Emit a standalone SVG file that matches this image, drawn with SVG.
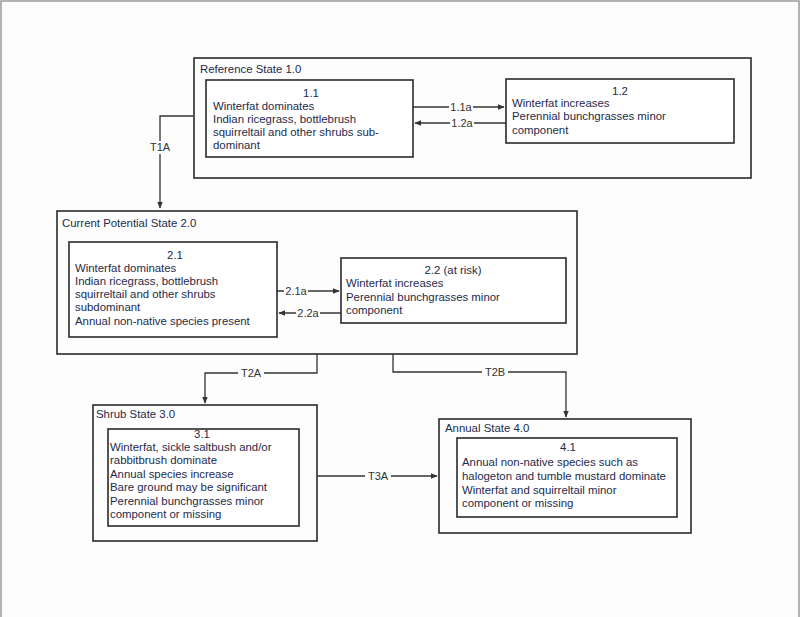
<svg xmlns="http://www.w3.org/2000/svg" width="800" height="617" viewBox="0 0 800 617">
<defs>
<style>
.bg{fill:#fdfdfd}
.frame{fill:none;stroke:#999;stroke-width:1.5}
.state{fill:none;stroke:#2a2a2a;stroke-width:1.6}
.comm{fill:#fff;stroke:#2a2a2a;stroke-width:1.6}
text{font-family:"Liberation Sans",Arial,sans-serif;font-size:11.4px;fill:#1e2a4a}
.c{text-anchor:middle}
.conn{fill:none;stroke:#333;stroke-width:1.3}
.lbl{text-anchor:middle;font-size:11px;fill:#333}
.lblbg{fill:#fdfdfd}
</style>
<marker id="ah" viewBox="0 0 10 10" refX="9" refY="5" markerWidth="7" markerHeight="7" orient="auto-start-reverse" markerUnits="userSpaceOnUse">
<path d="M0,1 L10,5 L0,9 z" fill="#333"/>
</marker>
</defs>
<rect class="bg" x="0" y="0" width="800" height="617"/>
<path class="frame" d="M1,617 L1,1 L799,1 L799,617"/>

<g id="connectors">
<path class="conn" d="M193,116 L160,116 L160,208" marker-end="url(#ah)"/>
<rect class="lblbg" x="146" y="141" width="28" height="13"/>
<text class="lbl" x="160" y="151">T1A</text>

<path class="conn" d="M413,107 L504,107" marker-end="url(#ah)"/>
<rect class="lblbg" x="449" y="101" width="24" height="12"/>
<text class="lbl" x="461" y="111">1.1a</text>
<path class="conn" d="M506,123 L415,123" marker-end="url(#ah)"/>
<rect class="lblbg" x="450" y="117" width="24" height="12"/>
<text class="lbl" x="462" y="127">1.2a</text>

<path class="conn" d="M277,291 L339,291" marker-end="url(#ah)"/>
<rect class="lblbg" x="284" y="285" width="24" height="12"/>
<text class="lbl" x="296" y="295">2.1a</text>
<path class="conn" d="M341,313 L279,313" marker-end="url(#ah)"/>
<rect class="lblbg" x="296" y="307" width="24" height="12"/>
<text class="lbl" x="308" y="317">2.2a</text>

<path class="conn" d="M317,354 L317,373 L205,373 L205,403" marker-end="url(#ah)"/>
<rect class="lblbg" x="238" y="367" width="26" height="12"/>
<text class="lbl" x="251" y="377">T2A</text>

<path class="conn" d="M393,354 L393,372 L566,372 L566,417" marker-end="url(#ah)"/>
<rect class="lblbg" x="482" y="366" width="26" height="12"/>
<text class="lbl" x="495" y="376">T2B</text>

<path class="conn" d="M317,476 L437,476" marker-end="url(#ah)"/>
<rect class="lblbg" x="365" y="470" width="26" height="12"/>
<text class="lbl" x="378" y="480">T3A</text>
</g>

<g id="state1">
<rect class="state" x="194" y="58" width="557" height="120"/>
<text x="200" y="73">Reference State 1.0</text>
</g>
<g id="comm1_1">
<rect class="comm" x="206" y="80" width="207" height="77"/>
<text class="c" x="311" y="97">1.1</text>
<text x="213" y="110">Winterfat dominates</text>
<text x="213" y="123">Indian ricegrass, bottlebrush</text>
<text x="213" y="136">squirreltail and other shrubs sub-</text>
<text x="213" y="149">dominant</text>
</g>
<g id="comm1_2">
<rect class="comm" x="506" y="79" width="228" height="64"/>
<text class="c" x="620" y="95">1.2</text>
<text x="512" y="107">Winterfat increases</text>
<text x="512" y="120">Perennial bunchgrasses minor</text>
<text x="512" y="134">component</text>
</g>

<g id="state2">
<rect class="state" x="57" y="211" width="520" height="143"/>
<text x="62" y="227">Current Potential State 2.0</text>
</g>
<g id="comm2_1">
<rect class="comm" x="69" y="242" width="208" height="95"/>
<text class="c" x="175" y="259">2.1</text>
<text x="75" y="272">Winterfat dominates</text>
<text x="75" y="285">Indian ricegrass, bottlebrush</text>
<text x="75" y="298">squirreltail and other shrubs</text>
<text x="75" y="311">subdominant</text>
<text x="75" y="325">Annual non-native species present</text>
</g>
<g id="comm2_2">
<rect class="comm" x="341" y="258" width="225" height="65"/>
<text class="c" x="453" y="274">2.2 (at risk)</text>
<text x="346" y="287">Winterfat increases</text>
<text x="346" y="301">Perennial bunchgrasses minor</text>
<text x="346" y="314">component</text>
</g>

<g id="state3">
<rect class="state" x="93" y="405" width="224" height="136"/>
<text x="96" y="418">Shrub State 3.0</text>
</g>
<g id="comm3_1">
<rect class="comm" x="108" y="429" width="191" height="97"/>
<text class="c" x="202" y="438">3.1</text>
<text x="110" y="451">Winterfat, sickle saltbush and/or</text>
<text x="110" y="464">rabbitbrush dominate</text>
<text x="110" y="478">Annual species increase</text>
<text x="110" y="491">Bare ground may be significant</text>
<text x="110" y="505">Perennial bunchgrasses minor</text>
<text x="110" y="518">component or missing</text>
</g>

<g id="state4">
<rect class="state" x="439" y="419" width="252" height="114"/>
<text x="445" y="432">Annual State 4.0</text>
</g>
<g id="comm4_1">
<rect class="comm" x="457" y="438" width="220" height="79"/>
<text class="c" x="568" y="451">4.1</text>
<text x="462" y="466">Annual non-native species such as</text>
<text x="462" y="480">halogeton and tumble mustard dominate</text>
<text x="462" y="494">Winterfat and squirreltail minor</text>
<text x="462" y="507">component or missing</text>
</g>
</svg>
